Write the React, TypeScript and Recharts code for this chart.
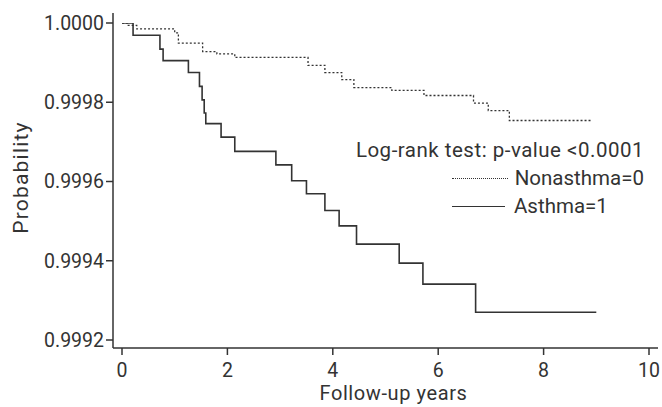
import { LineChart, Line, XAxis, YAxis } from 'recharts';

// Kaplan-Meier steps
const asthmaYears = [0, 0.21, 0.72, 0.78, 1.26, 1.47, 1.52, 1.56, 1.59, 1.88, 2.14, 2.92, 3.22, 3.5, 3.85, 4.12, 4.45, 5.26, 5.71, 6.71, 9.0];
const asthmaProb = [1.0, 0.999969, 0.999934, 0.999905, 0.999875, 0.99984, 0.999806, 0.999773, 0.999746, 0.999712, 0.999676, 0.999642, 0.999602, 0.999569, 0.999527, 0.999488, 0.999442, 0.999394, 0.999341, 0.99927, 0.99927];

const nonasthmaYears = [0, 0.1, 0.28, 1.0, 1.07, 1.53, 1.8, 2.14, 3.53, 3.85, 4.17, 4.4, 5.12, 5.73, 6.67, 6.95, 7.35, 8.91];
const nonasthmaProb = [1.0, 0.999994, 0.999985, 0.999975, 0.999949, 0.999928, 0.999922, 0.999913, 0.999893, 0.999875, 0.999857, 0.999837, 0.99983, 0.999817, 0.999798, 0.999779, 0.999754, 0.999754];

const xTicks = [0, 2, 4, 6, 8, 10];
const yTicks = [0.9992, 0.9994, 0.9996, 0.9998, 1.0];

const asthma = asthmaYears.map((t, i) => ({ t, p: asthmaProb[i] }));
const nonasthma = nonasthmaYears.map((t, i) => ({ t, p: nonasthmaProb[i] }));

const INK = '#333333';
const FONT = 'Roboto, "DejaVu Sans", sans-serif';

// legend drawn as an overlay so it doesn't eat into the plot area
function KmLegend() {
  return (
    <div
      style={{
        position: 'absolute', left: 340, top: 136, width: 304,
        fontFamily: FONT, fontSize: 20.5, color: INK, lineHeight: '28px',
      }}
    >
      <div style={{ textAlign: 'right', letterSpacing: 0.5 }}>Log-rank test: p-value &lt;0.0001</div>
      <div style={{ display: 'flex', alignItems: 'center', marginLeft: 112 }}>
        <span style={{ width: 56, borderTop: `1.3px dotted ${INK}`, marginRight: 7 }} />
        <span>Nonasthma=0</span>
      </div>
      <div style={{ display: 'flex', alignItems: 'center', marginLeft: 112 }}>
        <span style={{ width: 53, borderTop: `1.5px solid ${INK}`, marginRight: 9 }} />
        <span>Asthma=1</span>
      </div>
    </div>
  );
}

export default function App() {
  const tick = { fill: INK, fontSize: 19.5, fontFamily: FONT };
  return (
    <div style={{ position: 'absolute', left: 0, top: 0, width: 662, height: 407, background: '#fff' }}>
      <LineChart width={662} height={407} margin={{ top: 13, right: 4, bottom: 0, left: 0 }}>
        <XAxis
          type="number"
          dataKey="t"
          domain={[0, 10]}
          ticks={xTicks}
          padding={{ left: 9, right: 9 }}
          height={59}
          tick={tick}
          tickSize={7}
          tickMargin={8}
          stroke={INK}
          strokeWidth={1.5}
          label={{ value: 'Follow-up years', position: 'insideBottom', offset: 7, dx: 8, fill: INK, fontSize: 20, fontFamily: FONT, letterSpacing: 0.6 }}
        />
        <YAxis
          type="number"
          dataKey="p"
          domain={[0.9992, 1.0]}
          ticks={yTicks}
          padding={{ top: 10, bottom: 8 }}
          width={113}
          tick={tick}
          tickSize={7}
          tickMargin={2}
          tickFormatter={(v: number) => v.toFixed(4)}
          stroke={INK}
          strokeWidth={1.5}
          allowDataOverflow
          label={{ value: 'Probability', angle: -90, position: 'insideLeft', offset: 21, dy: -3, fill: INK, fontSize: 21, fontFamily: FONT, letterSpacing: 1.2, style: { textAnchor: 'middle' } }}
        />
        <Line
          data={nonasthma}
          dataKey="p"
          type="stepAfter"
          stroke={INK}
          strokeWidth={1.3}
          strokeDasharray="2 2"
          dot={false}
          isAnimationActive={false}
        />
        <Line
          data={asthma}
          dataKey="p"
          type="stepAfter"
          stroke={INK}
          strokeWidth={1.6}
          dot={false}
          isAnimationActive={false}
        />
      </LineChart>
      <KmLegend />
    </div>
  );
}
